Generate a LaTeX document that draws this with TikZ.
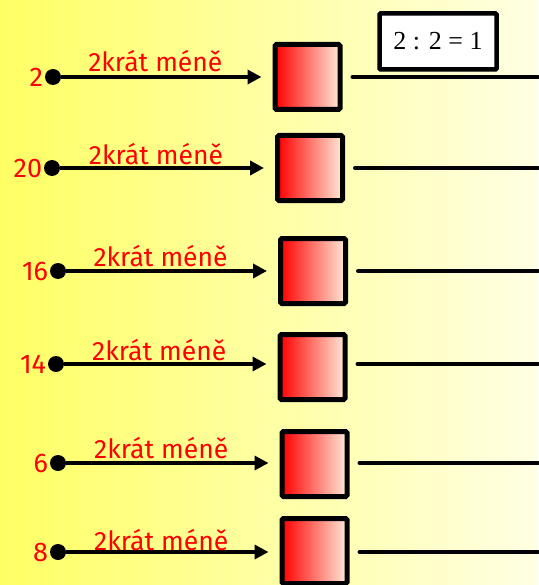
\documentclass[tikz,border=0pt]{standalone}
\usepackage{fontspec}
\setmainfont{Liberation Serif}
\newfontfamily\handfont{Fira Sans}
\usetikzlibrary{arrows.meta,positioning,calc}
\definecolor{bgleft}{RGB}{255,255,100}
\definecolor{bgright}{RGB}{255,255,228}
\definecolor{boxright}{RGB}{255,234,216}
\tikzset{
  startdot/.style = {circle, fill=black, inner sep=0pt, minimum size=16pt},
  numlabel/.style = {text=red, inner sep=1.5pt, font=\handfont\fontsize{27}{27}\selectfont},
  stepedge/.style = {line width=4pt, -{Triangle[length=14pt, width=14pt]}},
  steplabel/.style = {text=red, inner sep=1pt, font=\handfont\fontsize{26.5}{26.5}\selectfont},
  machine/.style = {draw=black, line width=5pt, rounded corners=1.5pt, inner sep=0pt,
    minimum size=65pt, left color=red, right color=boxright},
  outedge/.style = {line width=4pt, line cap=round},
  resultbox/.style = {draw=black, fill=white, line width=4.5pt, rounded corners=1pt,
    minimum width=117pt, minimum height=56pt, font=\fontsize{26}{26}\selectfont},
}

\begin{document}
\begin{tikzpicture}[x=1pt, y=-1pt]
  % background
  \shade[left color=bgleft, right color=bgright] (0,0) rectangle (538,585);
  \useasboundingbox (0,0) rectangle (538,585);

  % rows: number / dot x / row y / box x / box y
  \foreach \num/\dx/\ry/\bx/\by/\up [count=\i] in
    {2/53/77/307.5/77/2, 20/52/168/310/168/0, 16/58/271/313/271/1,
     14/56/364/312.5/367/0, 6/58/463/314.5/464/1, 8/58/552/314.5/551/-2}{
    \node[startdot] (dot\i) at (\dx,\ry) {};
    \node[numlabel, left=0pt of dot\i] (num\i) {\num};
    \node[machine] (box\i) at (\bx,\by) {};
    \coordinate (end\i) at (538,\ry);
    \draw[stepedge] (dot\i) -- ([xshift=-11pt]box\i.west |- dot\i)
      node[steplabel, above=\up pt, pos=0.47] (lab\i) {2krát méně};
    \draw[outedge] ([xshift=10pt]box\i.east |- dot\i) -- (end\i);
  }

  % result of the first row
  \node[resultbox] (calc) at (438,41.5) {2 : 2 = 1};
\end{tikzpicture}
\end{document}
